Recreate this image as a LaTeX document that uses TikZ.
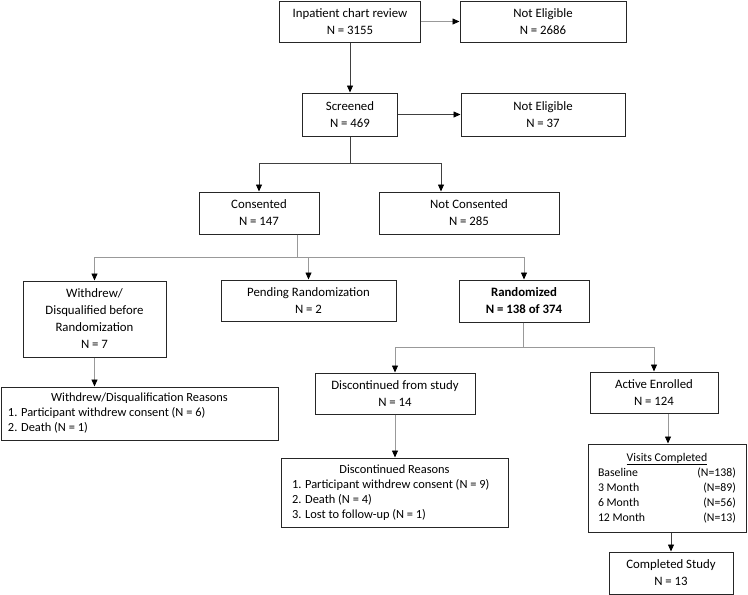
\documentclass[tikz,border=0pt]{standalone}
\usepackage{fontspec}
\setmainfont{Carlito}
\usetikzlibrary{arrows.meta}
\tikzset{
  box/.style={draw=black!85, line width=1pt, align=center, inner sep=0pt, font=\fontsize{12.8}{17}\selectfont},
  listbox/.style={box, font=\fontsize{12.4}{15}\selectfont},
  link/.style={line width=0.8pt, draw=black!75, -{Triangle[length=7pt,width=6pt,color=black]}},
  glink/.style={link, draw=gray!80},
}
% name, x, y, width, height, text
\newcommand{\flowbox}[6]{\node[box, minimum width=#4pt, minimum height=#5pt] (#1) at (#2,#3) {#6};}
\begin{document}
\begin{tikzpicture}[x=1pt,y=-1pt]
\useasboundingbox (0,0) rectangle (748,595);

% boxes
\flowbox{chart}{350}{21.5}{141}{41}{Inpatient chart review\\N = 3155}
\flowbox{ne1}{543}{21.5}{166}{41}{Not Eligible\\N = 2686}
\flowbox{screen}{350}{114.5}{95}{43}{Screened\\N = 469}
\flowbox{ne2}{543}{114.5}{164}{43}{Not Eligible\\N = 37}
\flowbox{cons}{259}{213}{120}{42}{Consented\\N = 147}
\flowbox{notcons}{469}{213}{180}{42}{Not Consented\\N = 285}
\flowbox{withdrew}{94.5}{319}{143}{76}{Withdrew/\\Disqualified before\\Randomization\\N = 7}
\flowbox{pending}{308.5}{300.5}{175}{41}{Pending Randomization\\N = 2}
\flowbox{random}{524}{301}{130}{42}{\textbf{Randomized}\\\textbf{N = 138 of 374}}
\flowbox{disc}{395}{393.5}{160}{41}{Discontinued from study\\N = 14}
\flowbox{active}{654}{392.5}{128}{41}{Active Enrolled\\N = 124}
\flowbox{done}{671}{573}{124}{42}{Completed Study\\N = 13}

% boxes with lists
\node[listbox, minimum width=277pt, minimum height=53pt] (wreasons) at (139.5,413.5)
  {\begin{tabular}{@{}l@{}}\makebox[263pt]{Withdrew/Disqualification Reasons}\\
   1. Participant withdrew consent (N = 6)\\2. Death (N = 1)\end{tabular}};
\node[listbox, minimum width=227pt, minimum height=69pt] (dreasons) at (394.5,492.5)
  {\begin{tabular}{@{}l@{}}\makebox[205pt]{Discontinued Reasons}\\
   1. Participant withdrew consent (N = 9)\\2. Death (N = 4)\\3. Lost to follow-up (N = 1)\end{tabular}};
\node[listbox, font=\fontsize{11.8}{15}\selectfont, minimum width=158pt, minimum height=88pt] (visits) at (667,488)
  {\begin{tabular*}{138pt}{@{}l@{\extracolsep{\fill}}r@{}}\multicolumn{2}{c}{\underline{Visits Completed}}\\
   Baseline & (N=138)\\3 Month & (N=89)\\6 Month & (N=56)\\12 Month & (N=13)\end{tabular*}};

% top part
\draw[glink] (chart) -- (ne1);
\draw[link] (chart) -- (screen);
\draw[link] (screen) -- (ne2);
\draw[link] (screen.south) -- ++(0,27) -| (cons.north);
\draw[link] (screen.south) -- ++(0,27) -| ([xshift=-28pt]notcons.north);

% after consent
\foreach \t in {withdrew, pending, random}
  \draw[glink] ([xshift=38pt]cons.south) -- ++(0,23) -| (\t.north);
\draw[glink] (withdrew.south) -- (withdrew.south |- wreasons.north);

% after randomization
\foreach \t in {disc, active}
  \draw[glink] ([xshift=-1pt]random.south) -- ++(0,25) -| (\t.north);
\draw[glink] (disc.south) -- (disc.south |- dreasons.north);
\draw[glink] ([xshift=14pt]active.south) -- ([xshift=14pt]active.south |- visits.north);
\draw[link] (done.north |- visits.south) -- (done.north);
\end{tikzpicture}
\end{document}
